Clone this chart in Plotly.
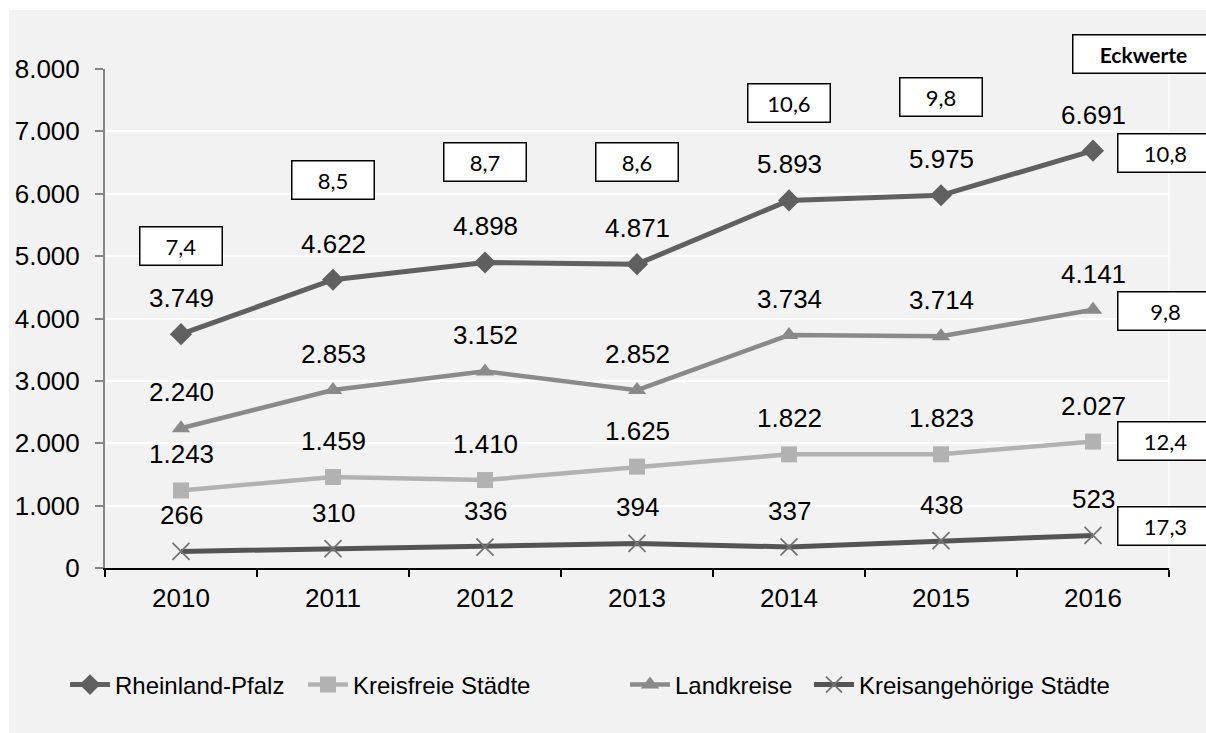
import plotly.graph_objects as go

years = ["2010", "2011", "2012", "2013", "2014", "2015", "2016"]
rlp = [3749, 4622, 4898, 4871, 5893, 5975, 6691]
kreisfreie = [1243, 1459, 1410, 1625, 1822, 1823, 2027]
landkreise = [2240, 2853, 3152, 2852, 3734, 3714, 4141]
kreisangeh = [266, 310, 336, 394, 337, 438, 523]

# Eckwerte (boxed values) per year for Rheinland-Pfalz and per series for 2016
eck_years = ["2010", "2011", "2012", "2013", "2014", "2015"]
eck_year_vals = ["7,4", "8,5", "8,7", "8,6", "10,6", "9,8"]
eck_series_vals = ["10,8", "9,8", "12,4", "17,3"]

# box placement (layout, not data)
eck_year_box_y = [5160, 6218, 6514, 6506, 7452, 7548]
eck_series_box_y = [6651, 4119, 2035, 673]

FONT = "Liberation Sans, Arial, sans-serif"
BOXFONT = "Lato, Open Sans, sans-serif"

W, H = 1206, 733
L, R, T, B = 105, 37, 69, 165
pw, ph = W - L - R, H - T - B

def pxx(p):
    return (p - L) / pw

def pxy(p):
    return (H - B - p) / ph

def fmt(v):
    return f"{v:,}".replace(",", ".")

series = [
    ("Rheinland-Pfalz", rlp, "#606060", dict(symbol="diamond", size=17, color="#606060"), 5),
    ("Kreisfreie Städte", kreisfreie, "#b2b2b2", dict(symbol="square", size=16, color="#b2b2b2"), 4.5),
    ("Landkreise", landkreise, "#8a8a8a", dict(symbol="triangle-up", size=16, color="#8a8a8a"), 4.5),
    ("Kreisangehörige Städte", kreisangeh, "#545454",
     dict(symbol="x-thin", size=17, color="#757575", line=dict(color="#757575", width=1.8)), 5),
]
legend_ids = ["legend", "legend2", "legend3", "legend4"]
legend_px = [65, 303, 625, 809]

fig = go.Figure()
for (name, vals, col, mk, lw), lid in zip(series, legend_ids):
    fig.add_trace(go.Scatter(x=years, y=vals, mode="lines+markers", name=name, legend=lid,
                             line=dict(color=col, width=lw), marker=mk))

annotations = []
for name, vals, col, mk, lw in series:
    for i, v in enumerate(vals):
        annotations.append(dict(x=i, y=v, xref="x", yref="y", text=fmt(v), showarrow=False,
                                yshift=36, font=dict(family=FONT, size=26, color="#000000")))

box_common = dict(showarrow=False, bgcolor="#ffffff", bordercolor="#000000", borderwidth=1.5,
                  borderpad=0, height=37, font=dict(family=BOXFONT, size=22, color="#000000"))
for yr, t, by in zip(eck_years, eck_year_vals, eck_year_box_y):
    annotations.append(dict(x=years.index(yr), y=by, xref="x", yref="y", text=t, width=81, **box_common))

for t, by in zip(eck_series_vals, eck_series_box_y):
    annotations.append(dict(x=pxx(1117), y=by, xref="paper", yref="y", xanchor="left",
                            text=t, width=94, **box_common))

annotations.append(dict(x=pxx(1072), y=pxy(54), xref="paper", yref="paper", xanchor="left",
                        yanchor="middle", text="<b>Eckwerte</b>", width=140, showarrow=False,
                        bgcolor="#ffffff", bordercolor="#000000", borderwidth=1.5, borderpad=0,
                        height=37, font=dict(family=BOXFONT, size=21, color="#000000")))

shapes = [
    dict(type="rect", xref="paper", yref="paper", x0=pxx(9), x1=pxx(1212), y0=pxy(10), y1=pxy(740),
         fillcolor="#f2f2f2", line=dict(width=0), layer="below"),
    dict(type="line", xref="paper", yref="paper", x0=1, x1=1, y0=0, y1=1,
         line=dict(color="#ffffff", width=1.5), layer="below"),
]

legend_common = dict(orientation="h", yanchor="middle", y=pxy(685), xanchor="left",
                     font=dict(family=FONT, size=24, color="#000000"),
                     bgcolor="rgba(0,0,0,0)", itemwidth=40)

fig.update_layout(
    width=W, height=H,
    margin=dict(l=L, r=R, t=T, b=B, pad=0),
    paper_bgcolor="#ffffff", plot_bgcolor="rgba(0,0,0,0)",
    separators=",.",
    font=dict(family=FONT, size=26, color="#000000"),
    showlegend=True,
    annotations=annotations,
    shapes=shapes,
)
for lid, lx in zip(legend_ids, legend_px):
    fig.update_layout({lid: dict(x=pxx(lx), **legend_common)})

fig.update_xaxes(type="category", showgrid=False, showline=True, linecolor="#000000", linewidth=2,
                 ticks="outside", tickson="boundaries", ticklen=7, tickwidth=2, tickcolor="#000000",
                 tickfont=dict(family=FONT, size=26, color="#000000"), ticklabelstandoff=6,
                 range=[-0.5, 6.5], zeroline=False)
fig.update_yaxes(range=[0, 8000], dtick=1000, tickformat=",d", showgrid=True, gridcolor="#ffffff",
                 gridwidth=1.5, showline=True, linecolor="#868686", linewidth=2, ticks="outside",
                 ticklen=8, tickwidth=1.5, tickcolor="#868686", zeroline=False,
                 tickfont=dict(family=FONT, size=26, color="#000000"), ticklabelstandoff=10)

fig.write_html("out.html", config={"displayModeBar": False},
               post_script="document.body.style.margin='0px';")
